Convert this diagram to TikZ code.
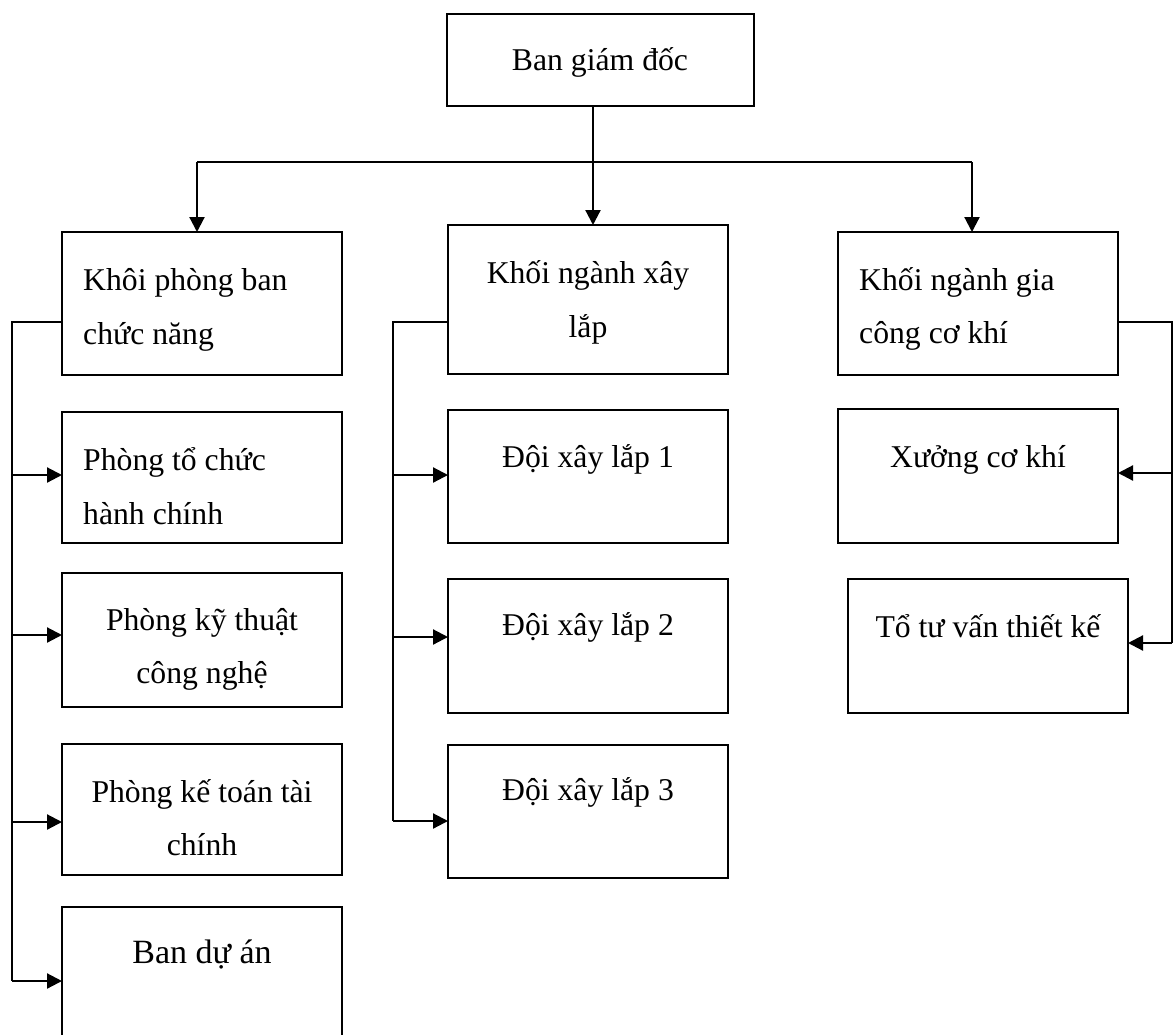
\documentclass[tikz,border=0pt]{standalone}
\usepackage{fontspec}
\setmainfont{Liberation Serif}
\usetikzlibrary{arrows.meta}
\begin{document}
\begin{tikzpicture}[x=1pt,y=-1pt,
  box/.style={draw,line width=2pt,inner sep=0pt,outer sep=0pt,anchor=north west},
  txt/.style={inner sep=0pt,font=\fontsize{31.7}{38}\selectfont},
  conn/.style={line width=2.2pt},
  arr/.style={conn,-{Triangle[length=15pt,width=15pt]}}]
\useasboundingbox (0,0) rectangle (1173,1034);
% boxes
\node[box,minimum width=307pt,minimum height=92pt] (gd) at (447,14) {};
\node[box,minimum width=280pt,minimum height=143pt] (kpb) at (62,232) {};
\node[box,minimum width=280pt,minimum height=149pt] (kxl) at (448,225) {};
\node[box,minimum width=280pt,minimum height=143pt] (kgc) at (838,232) {};
\node[box,minimum width=280pt,minimum height=131pt] (ptc) at (62,412) {};
\node[box,minimum width=280pt,minimum height=134pt] (pkt) at (62,573) {};
\node[box,minimum width=280pt,minimum height=131pt] (pkd) at (62,744) {};
\node[box,minimum width=280pt,minimum height=140pt] (bda) at (62,907) {};
\node[box,minimum width=280pt,minimum height=133pt] (d1) at (448,410) {};
\node[box,minimum width=280pt,minimum height=134pt] (d2) at (448,579) {};
\node[box,minimum width=280pt,minimum height=133pt] (d3) at (448,745) {};
\node[box,minimum width=280pt,minimum height=134pt] (xck) at (838,409) {};
\node[box,minimum width=280pt,minimum height=134pt] (ttv) at (848,579) {};
% texts
\node[txt,anchor=base] (tgd) at (600,70) {Ban giám đốc};
\node[txt,anchor=base west] (tkpb1) at (83,290) {Khôi phòng ban};
\node[txt,anchor=base west] (tkpb2) at (83,344) {chức năng};
\node[txt,anchor=base] (tkxl1) at (588,283) {Khối ngành xây};
\node[txt,anchor=base] (tkxl2) at (588,337) {lắp};
\node[txt,anchor=base west] (tkgc1) at (859,290) {Khối ngành gia};
\node[txt,anchor=base west] (tkgc2) at (859,343) {công cơ khí};
\node[txt,anchor=base west] (tptc1) at (83,470) {Phòng tổ chức};
\node[txt,anchor=base west] (tptc2) at (83,524) {hành chính};
\node[txt,anchor=base] (tpkt1) at (202,630) {Phòng kỹ thuật};
\node[txt,anchor=base] (tpkt2) at (202,683) {công nghệ};
\node[txt,anchor=base] (tpkd1) at (202,802) {Phòng kế toán tài};
\node[txt,anchor=base] (tpkd2) at (202,855) {chính};
\node[txt,anchor=base,font=\fontsize{34}{40}\selectfont] (tbda) at (202,963) {Ban dự án};
\node[txt,anchor=base] (td1) at (588,467) {Đội xây lắp 1};
\node[txt,anchor=base] (td2) at (588,635) {Đội xây lắp 2};
\node[txt,anchor=base] (td3) at (588,800) {Đội xây lắp 3};
\node[txt,anchor=base] (txck) at (978,467) {Xưởng cơ khí};
\node[txt,anchor=base] (tttv) at (988,637) {Tổ tư vấn thiết kế};
% top connectors
\coordinate (j) at (593,162);
\coordinate (hl) at (197,162);
\coordinate (hr) at (972,162);
\draw[arr] (gd.south -| j) -- (j |- kxl.north);
\draw[conn] (hl) -- (hr);
\draw[arr] (hl) -- (hl |- kpb.north);
\draw[arr] (hr) -- (hr |- kgc.north);
% left group
\coordinate (kpbA) at ([yshift=-90pt]kpb.north west);
\coordinate (ptcA) at ([yshift=-63pt]ptc.north west);
\coordinate (pktA) at ([yshift=-62pt]pkt.north west);
\coordinate (pkdA) at ([yshift=-78pt]pkd.north west);
\coordinate (bdaA) at ([yshift=-74pt]bda.north west);
\coordinate (lv) at (12,322);
\draw[conn] (kpbA) -- (lv) -- (lv |- bdaA);
\draw[arr] (lv |- ptcA) -- (ptcA);
\draw[arr] (lv |- pktA) -- (pktA);
\draw[arr] (lv |- pkdA) -- (pkdA);
\draw[arr] (lv |- bdaA) -- (bdaA);
% middle group
\coordinate (kxlA) at ([yshift=-97pt]kxl.north west);
\coordinate (d1A) at ([yshift=-65pt]d1.north west);
\coordinate (d2A) at ([yshift=-58pt]d2.north west);
\coordinate (d3A) at ([yshift=-76pt]d3.north west);
\coordinate (mv) at (393,322);
\draw[conn] (kxlA) -- (mv) -- (mv |- d3A);
\draw[arr] (mv |- d1A) -- (d1A);
\draw[arr] (mv |- d2A) -- (d2A);
\draw[arr] (mv |- d3A) -- (d3A);
% right group
\coordinate (kgcA) at ([yshift=-90pt]kgc.north east);
\coordinate (xckA) at ([yshift=-64pt]xck.north east);
\coordinate (ttvA) at ([yshift=-64pt]ttv.north east);
\coordinate (rv) at (1172,322);
\draw[conn] (kgcA) -- (rv) -- (rv |- ttvA);
\draw[arr] (rv |- xckA) -- (xckA);
\draw[arr] (rv |- ttvA) -- (ttvA);
\end{tikzpicture}
\end{document}
